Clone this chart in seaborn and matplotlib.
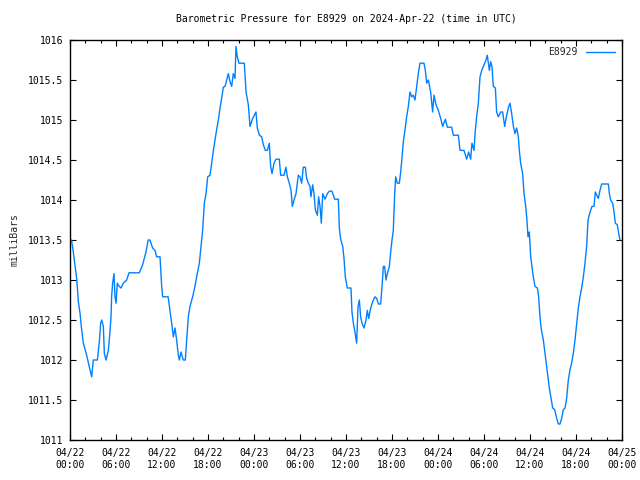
import numpy as np
import pandas as pd
import matplotlib
matplotlib.use("Agg")
import matplotlib.pyplot as plt
import matplotlib.dates as mdates
import seaborn as sns

title = "Barometric Pressure for E8929 on 2024-Apr-22 (time in UTC)"
station = "E8929"
y_label = "milliBars"
start_time = "2024-04-22 00:00"
end_time = "2024-04-25 00:00"

hours = [0.1, 0.2, 0.43, 0.87, 1.09, 1.3, 1.52, 1.74, 2.17, 2.6, 2.83, 3.04, 3.57, 3.83, 4.0, 4.13,
         4.35, 4.48, 4.7, 5.0, 5.2, 5.35, 5.43, 5.56, 5.74, 5.87, 6.0, 6.17, 6.43, 6.65, 6.96,
         7.39, 7.7, 9.04, 9.47, 9.91, 10.2, 10.43, 10.78, 11.09, 11.3, 11.74, 11.96, 12.09, 12.8,
         13.04, 13.26, 13.48, 13.7, 13.91, 14.13, 14.26, 14.48, 14.78, 15.04, 15.22, 15.43, 15.65,
         16.0, 16.3, 16.52, 16.87, 17.09, 17.3, 17.52, 17.74, 17.96, 18.26, 18.48, 18.7, 18.91,
         19.13, 19.35, 19.57, 19.78, 20.0, 20.22, 20.43, 20.65, 20.87, 21.09, 21.3, 21.52, 21.65,
         21.82, 22.04, 22.74, 22.96, 23.26, 23.48, 23.83, 24.26, 24.43, 24.7, 25.0, 25.22, 25.48,
         25.74, 26.0, 26.17, 26.35, 26.61, 26.87, 27.3, 27.48, 27.91, 28.17, 28.35, 28.61, 28.83,
         29.0, 29.22, 29.48, 29.78, 30.0, 30.22, 30.43, 30.7, 30.87, 31.09, 31.3, 31.43, 31.65,
         31.83, 32.0, 32.26, 32.43, 32.61, 32.78, 32.96, 33.26, 33.57, 33.83, 34.17, 34.52, 35.0,
         35.13, 35.3, 35.57, 35.74, 35.91, 36.17, 36.65, 36.78, 36.96, 37.17, 37.39, 37.57, 37.74,
         37.91, 38.09, 38.35, 38.61, 38.78, 38.96, 39.22, 39.48, 39.78, 40.0, 40.22, 40.52, 40.7,
         40.87, 41.04, 41.22, 41.39, 41.65, 41.83, 42.0, 42.17, 42.35, 42.48, 42.7, 42.96, 43.13,
         43.26, 43.48, 43.7, 43.91, 44.13, 44.35, 44.57, 44.78, 45.0, 45.22, 45.43, 45.65, 46.17,
         46.35, 46.52, 46.74, 47.04, 47.3, 47.48, 47.74, 48.04, 48.35, 48.61, 48.96, 49.22, 49.78,
         50.0, 50.65, 50.87, 51.39, 51.74, 52.0, 52.26, 52.43, 52.7, 52.83, 53.04, 53.26, 53.48,
         53.7, 54.0, 54.26, 54.43, 54.7, 54.87, 55.04, 55.22, 55.48, 55.65, 55.87, 56.17, 56.43,
         56.7, 56.96, 57.22, 57.39, 57.61, 57.83, 58.04, 58.26, 58.48, 58.61, 58.78, 59.04, 59.22,
         59.39, 59.57, 59.74, 59.91, 60.09, 60.26, 60.43, 60.65, 60.96, 61.13, 61.3, 61.48, 61.74,
         61.96, 62.17, 62.35, 62.52, 62.78, 62.96, 63.22, 63.48, 63.7, 63.91, 64.13, 64.35, 64.57,
         64.78, 65.0, 65.22, 65.43, 65.65, 65.87, 66.09, 66.3, 66.52, 66.74, 66.96, 67.17, 67.39,
         67.57, 67.83, 68.09, 68.35, 68.52, 68.7, 68.91, 69.13, 69.35, 70.22, 70.35, 70.52, 70.78,
         70.96, 71.13, 71.39, 71.57, 71.74]

pressure = [1013.5, 1013.5, 1013.35, 1013.02, 1012.73, 1012.59, 1012.38, 1012.21, 1012.06, 1011.88,
            1011.79, 1012.0, 1012.0, 1012.23, 1012.46, 1012.5, 1012.42, 1012.08, 1012.0, 1012.12,
            1012.34, 1012.54, 1012.79, 1012.96, 1013.08, 1012.79, 1012.71, 1012.96, 1012.92,
            1012.9, 1012.96, 1013.0, 1013.09, 1013.09, 1013.19, 1013.35, 1013.5, 1013.5, 1013.4,
            1013.37, 1013.29, 1013.29, 1012.92, 1012.79, 1012.79, 1012.62, 1012.46, 1012.29,
            1012.4, 1012.25, 1012.06, 1012.0, 1012.1, 1012.0, 1012.0, 1012.25, 1012.54, 1012.67,
            1012.79, 1012.92, 1013.04, 1013.21, 1013.42, 1013.62, 1013.96, 1014.08, 1014.29,
            1014.31, 1014.46, 1014.62, 1014.75, 1014.88, 1015.0, 1015.15, 1015.27, 1015.41,
            1015.42, 1015.5, 1015.58, 1015.48, 1015.42, 1015.58, 1015.52, 1015.92, 1015.79,
            1015.71, 1015.71, 1015.35, 1015.19, 1014.92, 1015.02, 1015.1, 1014.9, 1014.81,
            1014.79, 1014.69, 1014.62, 1014.62, 1014.71, 1014.42, 1014.33, 1014.46, 1014.51,
            1014.51, 1014.31, 1014.31, 1014.41, 1014.29, 1014.21, 1014.12, 1013.92, 1014.0,
            1014.08, 1014.31, 1014.29, 1014.21, 1014.41, 1014.41, 1014.27, 1014.21, 1014.17,
            1014.04, 1014.19, 1014.08, 1013.88, 1013.81, 1014.04, 1013.92, 1013.71, 1014.08,
            1014.01, 1014.08, 1014.11, 1014.11, 1014.01, 1014.01, 1013.65, 1013.51, 1013.42,
            1013.27, 1013.04, 1012.9, 1012.9, 1012.6, 1012.46, 1012.35, 1012.21, 1012.67,
            1012.75, 1012.54, 1012.46, 1012.4, 1012.5, 1012.62, 1012.52, 1012.65, 1012.73,
            1012.79, 1012.77, 1012.7, 1012.7, 1012.92, 1013.17, 1013.17, 1013.0, 1013.08,
            1013.17, 1013.35, 1013.5, 1013.62, 1014.08, 1014.29, 1014.21, 1014.21, 1014.35,
            1014.48, 1014.73, 1014.88, 1015.04, 1015.17, 1015.35, 1015.29, 1015.31, 1015.25,
            1015.42, 1015.58, 1015.71, 1015.71, 1015.62, 1015.46, 1015.5, 1015.35, 1015.1,
            1015.31, 1015.19, 1015.12, 1015.02, 1014.92, 1015.01, 1014.91, 1014.91, 1014.81,
            1014.81, 1014.62, 1014.62, 1014.51, 1014.6, 1014.51, 1014.71, 1014.62, 1014.83,
            1015.04, 1015.21, 1015.54, 1015.62, 1015.69, 1015.75, 1015.81, 1015.62, 1015.73,
            1015.67, 1015.42, 1015.4, 1015.1, 1015.04, 1015.1, 1015.1, 1014.92, 1015.06, 1015.17,
            1015.21, 1015.08, 1014.92, 1014.83, 1014.9, 1014.79, 1014.62, 1014.46, 1014.33,
            1014.08, 1013.96, 1013.79, 1013.54, 1013.6, 1013.29, 1013.17, 1013.04, 1012.92,
            1012.9, 1012.79, 1012.54, 1012.38, 1012.25, 1012.08, 1011.92, 1011.77, 1011.65,
            1011.5, 1011.4, 1011.38, 1011.27, 1011.2, 1011.2, 1011.27, 1011.38, 1011.4, 1011.52,
            1011.75, 1011.88, 1011.96, 1012.08, 1012.25, 1012.46, 1012.65, 1012.79, 1012.9,
            1013.04, 1013.21, 1013.42, 1013.75, 1013.85, 1013.92, 1013.92, 1014.1, 1014.06,
            1014.02, 1014.12, 1014.2, 1014.2, 1014.08, 1014.0, 1013.96, 1013.85, 1013.71,
            1013.69, 1013.58, 1013.5]

y_ticks = [1011, 1011.5, 1012, 1012.5, 1013, 1013.5, 1014, 1014.5, 1015, 1015.5, 1016]
y_tick_labels = ["1011", "1011.5", "1012", "1012.5", "1013", "1013.5", "1014", "1014.5",
                 "1015", "1015.5", "1016"]

t0 = pd.Timestamp(start_time)
df = pd.DataFrame({
    "time": t0 + pd.to_timedelta(hours, unit="h"),
    "pressure": pressure,
})

sns.set_theme(style="white")
plt.rcParams["font.family"] = ["DejaVu Sans Mono", "DejaVu Sans"]
plt.rcParams["font.size"] = 7

fig = plt.figure(figsize=(6.4, 4.8), dpi=100)
ax = fig.add_axes([70 / 640, 40 / 480, 552 / 640, 400 / 480])

sns.lineplot(data=df, x="time", y="pressure", ax=ax, color="#0080ff", linewidth=1.0,
             label=station, estimator=None, sort=False)

ax.set_xlim(pd.Timestamp(start_time), pd.Timestamp(end_time))
ax.set_ylim(1011, 1016)
ax.set_yticks(y_ticks)
ax.set_yticklabels(y_tick_labels)

ax.xaxis.set_major_locator(mdates.HourLocator(byhour=[0, 6, 12, 18]))
ax.xaxis.set_minor_locator(mdates.HourLocator(interval=2))
ax.xaxis.set_major_formatter(mdates.DateFormatter("%m/%d\n%H:%M"))

for s in ax.spines.values():
    s.set_color("black")
    s.set_linewidth(1.0)
    s.set_visible(True)

ax.tick_params(axis="both", which="major", direction="in", length=4.5, width=0.8,
               colors="black", labelsize=7, top=True, right=True, bottom=True, left=True)
ax.tick_params(axis="x", which="minor", direction="in", length=2.2, width=0.8,
               colors="black", top=True, bottom=True)
ax.tick_params(axis="x", which="major", pad=6)
ax.tick_params(axis="y", which="major", pad=5)
ax.grid(False)

ax.set_xlabel("")
ax.set_ylabel(y_label, fontsize=7)
ax.yaxis.set_label_coords((19 - 70) / 552, 0.5)

fig.text(346 / 640, 1 - 19 / 480, title, ha="center", va="center", fontsize=7, color="black")

leg = ax.legend(loc="upper right", frameon=False, markerfirst=False, handlelength=3.0,
                handletextpad=0.8, borderaxespad=0.35, fontsize=7)

fig.savefig("out.png", dpi=100)
